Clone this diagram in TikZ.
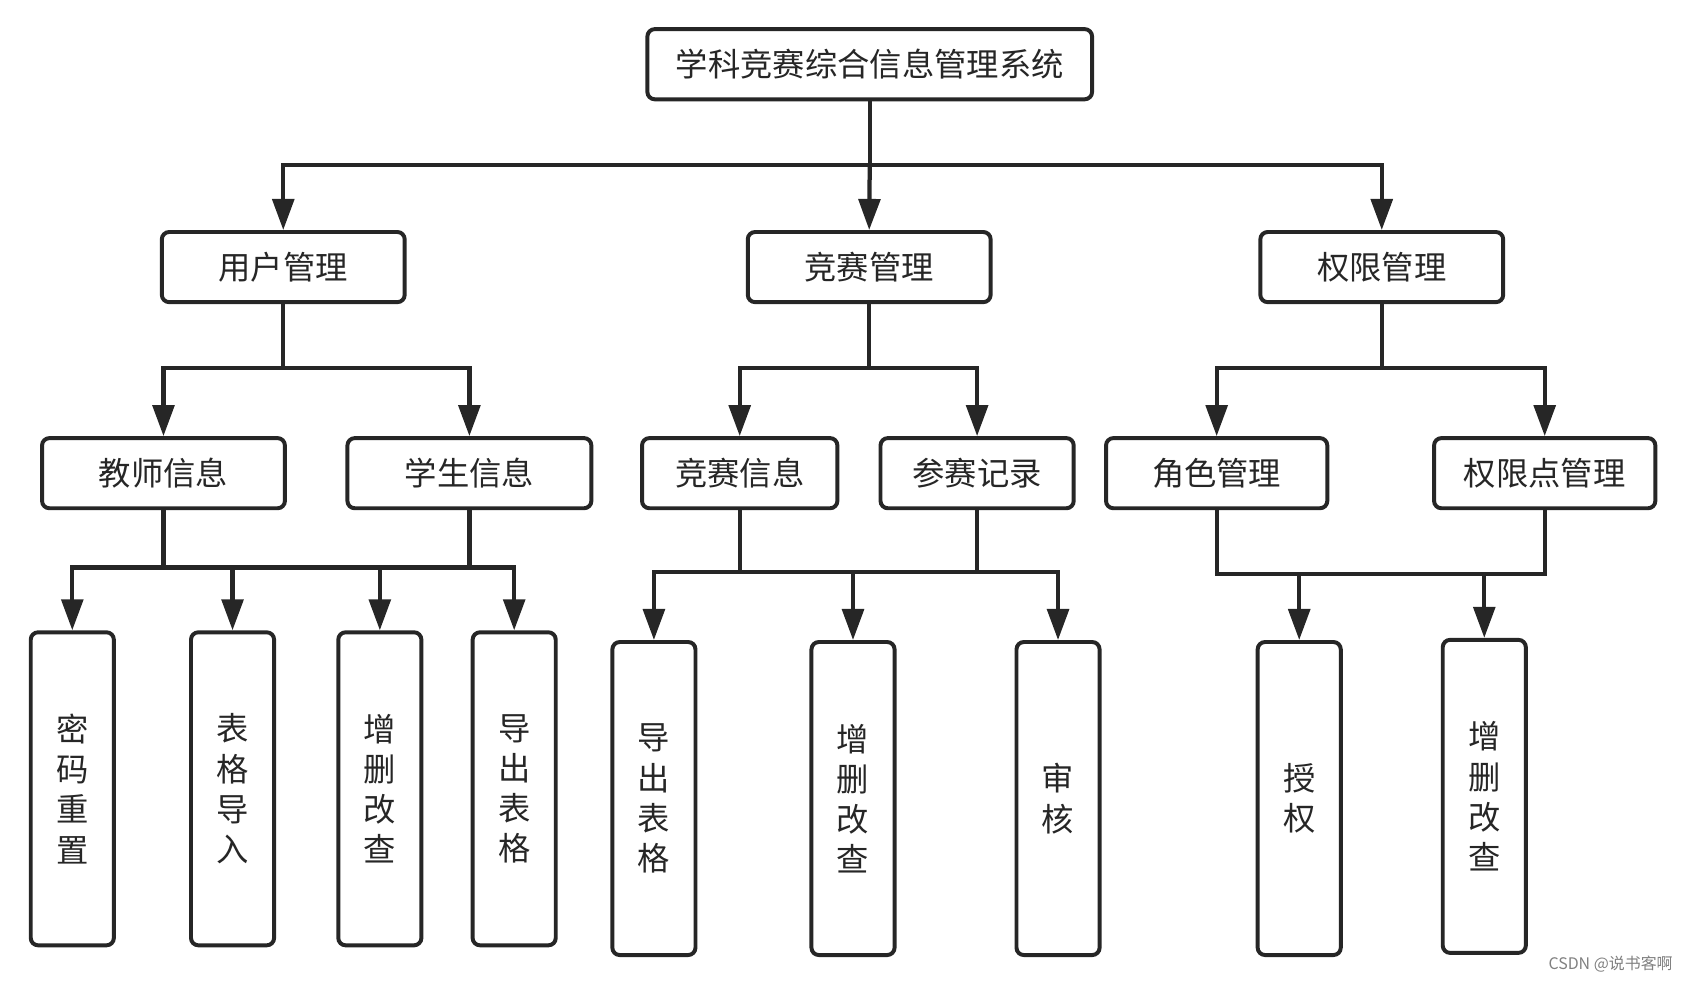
\documentclass[tikz,border=0pt]{standalone}
\usepackage{fontspec}
\setmainfont{Noto Sans CJK SC}
\usetikzlibrary{arrows.meta,calc}
\definecolor{ink}{HTML}{262626}
\tikzset{
  box/.style={draw=ink, line width=2.6pt, rounded corners=0.17cm, fill=white, text=ink,
    font=\fontsize{21.3}{26.5}\selectfont, inner sep=0pt, align=center},
  hbox/.style={box, minimum height=1.625cm},
  vbox/.style={box, minimum width=1.925cm, minimum height=7.25cm},
  conn/.style={draw=ink, line width=2.8pt, line cap=rect},
  arr/.style={conn, line cap=butt, -{Triangle[length=0.72cm, width=0.5cm]}},
}
\begin{document}
\begin{tikzpicture}[x=0.025cm, y=-0.025cm]
\useasboundingbox (0,0) rectangle (1568,910);
% nodes
\node[hbox, minimum width=10.3cm] (root) at (806,59.5) {学科竞赛综合信息管理系统};
\node[hbox, minimum width=5.625cm] (u1) at (262.5,247.5) {用户管理};
\node[hbox, minimum width=5.625cm] (u2) at (805.5,247.5) {竞赛管理};
\node[hbox, minimum width=5.625cm] (u3) at (1280.5,247.5) {权限管理};
\node[hbox, minimum width=5.625cm] (t1) at (151.5,438.5) {教师信息};
\node[hbox, minimum width=5.65cm] (t2) at (435,438.5) {学生信息};
\node[hbox, minimum width=4.525cm] (c1) at (685.5,438.5) {竞赛信息};
\node[hbox, minimum width=4.475cm] (c2) at (905.5,438.5) {参赛记录};
\node[hbox, minimum width=5.125cm] (p1) at (1127.5,438.5) {角色管理};
\node[hbox, minimum width=5.125cm] (p2) at (1431.5,438.5) {权限点管理};
\node[vbox] (l1) at (67,731) {密\\码\\重\\置};
\node[vbox] (l2) at (215.5,731) {表\\格\\导\\入};
\node[vbox] (l3) at (352,731) {增\\删\\改\\查};
\node[vbox] (l4) at (476.5,731) {导\\出\\表\\格};
\node[vbox] (m1) at (606,740) {导\\出\\表\\格};
\node[vbox] (m2) at (790.5,740) {增\\删\\改\\查};
\node[vbox] (m3) at (980.5,740) {审\\核};
\node[vbox] (r1) at (1204,740) {授\\权};
\node[vbox] (r2) at (1375.5,738) {增\\删\\改\\查};
\node[text=gray, font=\fontsize{10.5}{12}\selectfont, anchor=east] (wm) at (1555,893) {CSDN @说书客啊};
% bar levels
\coordinate (b0) at (0,153);
\coordinate (b1) at (0,341);
\coordinate (bu) at (0,526);
\coordinate (bm) at (0,530);
\coordinate (bp) at (0,532);
% level 0 -> 1
\draw[conn] (root.south) -- (root.south |- b0);
\draw[conn] (u1.north |- b0) -- (u3.north |- b0);
\draw[arr] (u1.north |- b0) -- (u1.north);
\draw[arr] (root.south |- b0) -- (u2.north);
\draw[arr] (u3.north |- b0) -- (u3.north);
% level 1 -> 2
\draw[conn] (u1.south) -- (u1.south |- b1);
\draw[conn] (t1.north |- b1) -- (t2.north |- b1);
\draw[arr] (t1.north |- b1) -- (t1.north);
\draw[arr] (t2.north |- b1) -- (t2.north);
\draw[conn] (u2.south) -- (u2.south |- b1);
\draw[conn] (c1.north |- b1) -- (c2.north |- b1);
\draw[arr] (c1.north |- b1) -- (c1.north);
\draw[arr] (c2.north |- b1) -- (c2.north);
\draw[conn] (u3.south) -- (u3.south |- b1);
\draw[conn] (p1.north |- b1) -- (p2.north |- b1);
\draw[arr] (p1.north |- b1) -- (p1.north);
\draw[arr] (p2.north |- b1) -- (p2.north);
% level 2 -> 3 (user)
\draw[conn] (t1.south) -- (t1.south |- bu);
\draw[conn] (t2.south) -- (t2.south |- bu);
\draw[conn] (l1.north |- bu) -- (l4.north |- bu);
\draw[arr] (l1.north |- bu) -- (l1.north);
\draw[arr] (l2.north |- bu) -- (l2.north);
\draw[arr] (l3.north |- bu) -- (l3.north);
\draw[arr] (l4.north |- bu) -- (l4.north);
% level 2 -> 3 (competition)
\draw[conn] (c1.south) -- (c1.south |- bm);
\draw[conn] (c2.south) -- (c2.south |- bm);
\draw[conn] (m1.north |- bm) -- (m3.north |- bm);
\draw[arr] (m1.north |- bm) -- (m1.north);
\draw[arr] (m2.north |- bm) -- (m2.north);
\draw[arr] (m3.north |- bm) -- (m3.north);
% level 2 -> 3 (permission)
\draw[conn] (p1.south) -- (p1.south |- bp) -- (p2.south |- bp) -- (p2.south);
\draw[arr] (r1.north |- bp) -- (r1.north);
\draw[arr] (r2.north |- bp) -- (r2.north);
\end{tikzpicture}
\end{document}
